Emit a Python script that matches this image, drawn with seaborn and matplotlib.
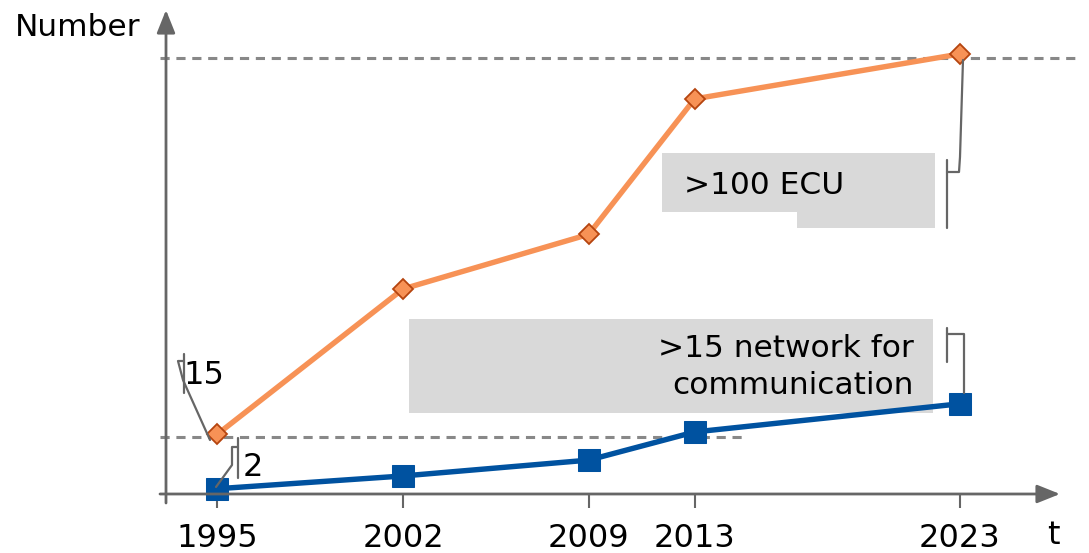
import matplotlib.pyplot as plt
import seaborn as sns
from matplotlib.lines import Line2D
from matplotlib.patches import Polygon, Rectangle

# ── Datos (esquema) ─────────────────────────────────────────────────
years = [1995, 2002, 2009, 2013, 2023]
ecu_count = [13.6, 46.6, 59, 89.8, 100]
network_count = [1.2, 4.1, 7.7, 14.1, 20.5]
ref_low = 13
ref_high = 99

ORANGE = "#F79256"
ORANGE_EDGE = "#B5440F"
BLUE = "#0052A0"
GRAY = "#666666"
BOX = "#D9D9D9"
W, H = 1089, 553

sns.set_style("white")
plt.rcParams["font.family"] = ["DejaVu Sans"]
plt.rcParams["text.color"] = "black"
plt.rcParams["xtick.color"] = "black"

fig = plt.figure(figsize=(W / 100, H / 100), dpi=100)
# axes: y-axis at x=166px, x-axis at y=494px, arrow tips at 1060 / 10
ax = fig.add_axes([166 / W, (H - 494) / H, (1060 - 166) / W, (494 - 10) / H])
ax.set_xlim(1993.06, 2026.78)
ax.set_ylim(0, 110)
ax.set_facecolor("none")
for s in ax.spines.values():
    s.set_visible(False)


def px(x, y):
    return (x / W, 1 - y / H)


def fig_line(pts, **kw):
    xs = [px(*p)[0] for p in pts]
    ys = [px(*p)[1] for p in pts]
    fig.add_artist(Line2D(xs, ys, transform=fig.transFigure, **kw))


# ── Cajas grises ────────────────────────────────────────────────────
box1 = [(662, 153), (935, 153), (935, 228), (797, 228), (797, 212), (662, 212)]
fig.add_artist(Polygon([px(*p) for p in box1], closed=True, transform=fig.transFigure,
                       facecolor=BOX, edgecolor="none", zorder=0))
fig.add_artist(Rectangle(px(409, 413), (933 - 409) / W, (413 - 319) / H,
                         transform=fig.transFigure, facecolor=BOX, edgecolor="none", zorder=0))
fig.text(*px(684, 186), ">100 ECU", fontsize=22.5, ha="left", va="center", zorder=1)
fig.text(*px(914, 367), ">15 network for\ncommunication", fontsize=22.5, ha="right",
         va="center", multialignment="right", linespacing=1.35, zorder=1)

# ── Líneas de referencia ────────────────────────────────────────────
ax.plot([1992.83, 2014.9], [ref_low, ref_low], ls=(0, (3, 2.2)), color="#888888", lw=2.2,
        clip_on=False, zorder=1)
ax.plot([1992.83, 2027.5], [ref_high, ref_high], ls=(0, (3, 2.2)), color="#888888", lw=2.2,
        clip_on=False, zorder=1)

# ── Series ──────────────────────────────────────────────────────────
sns.lineplot(x=years, y=network_count, ax=ax, color=BLUE, lw=3.9, marker="s",
             markersize=16, markeredgecolor=BLUE, zorder=3)
sns.lineplot(x=years, y=ecu_count, ax=ax, color=ORANGE, lw=3.9, marker="D",
             markersize=10, markeredgecolor=ORANGE_EDGE, markeredgewidth=1.3, zorder=4)
for ln in ax.lines[-2:]:
    ln.set_clip_on(False)

# ── Ejes con flechas ───────────────────────────────────────────────
arrow = dict(arrowstyle="-|>,head_length=0.7,head_width=0.28", color=GRAY, lw=2,
             mutation_scale=20, shrinkA=0, shrinkB=0)
ax.annotate("", xy=(0, 1), xytext=(0, -9 / 484), xycoords="axes fraction", arrowprops=arrow)
ax.annotate("", xy=(1, 0), xytext=(-6 / 894, 0), xycoords="axes fraction", arrowprops=arrow)

ax.set_xticks(years)
ax.set_xticklabels([str(y) for y in years])
ax.set_yticks([])
ax.tick_params(axis="x", direction="out", length=10, width=1.5, color=GRAY,
               labelcolor="black", labelsize=23, pad=11, bottom=True)
ax.set_xlabel("")
ax.set_ylabel("")

fig.text(*px(15, 28), "Number", fontsize=22.5, ha="left", va="center")
fig.text(*px(1053, 535), "t", fontsize=23, ha="center", va="center")

# ── Llamadas ────────────────────────────────────────────────────────
lk = dict(color=GRAY, lw=1.6, zorder=5)
fig_line([(947, 160), (947, 228)], **lk)
fig_line([(947, 172), (959, 172), (960, 157), (963, 60)], **lk)
fig_line([(947, 328), (947, 362)], **lk)
fig_line([(947, 334), (964, 334), (964, 393)], **lk)
fig_line([(184, 354), (184, 393)], **lk)
fig_line([(184, 361), (178, 361), (183, 380), (210, 440)], **lk)
fig_line([(238, 438), (238, 478)], **lk)
fig_line([(238, 447), (232, 447), (232, 465), (216, 487)], **lk)
fig.text(*px(204, 376), "15", fontsize=23, ha="center", va="center")
fig.text(*px(253, 468), "2", fontsize=23, ha="center", va="center")

fig.savefig("out.png", dpi=100)
